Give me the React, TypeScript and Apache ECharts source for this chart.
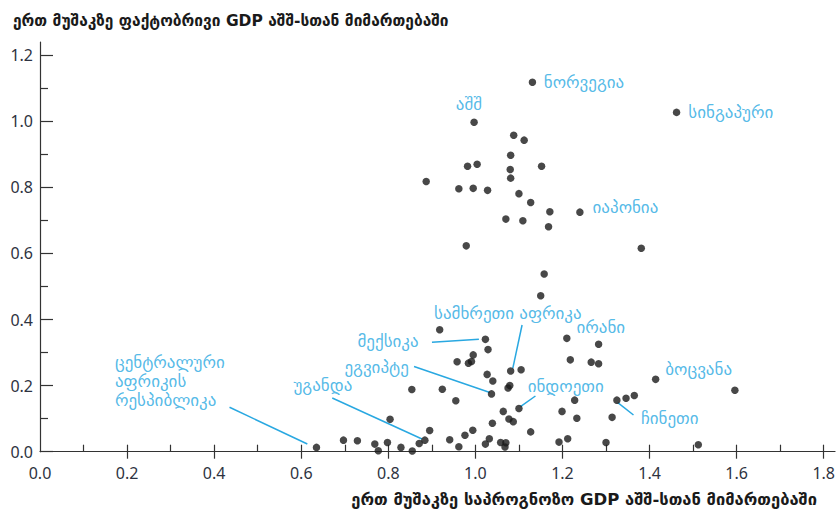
import React, { useEffect, useRef } from "react";
import * as echarts from "echarts";

// Tick values
const yMajorTicks = [0, 0.2, 0.4, 0.6, 0.8, 1.0, 1.2];
const yMinorTicks = [0.1, 0.3, 0.5, 0.7, 0.9, 1.1];
const xLabelTicks = [0, 0.2, 0.4, 0.6, 0.8, 1.0, 1.2, 1.4, 1.6, 1.8];
const xMajorTicks = [0.2, 0.4, 0.6, 0.8, 1.0, 1.2, 1.4, 1.6, 1.8];
const xAllTicks = [0.1, 0.2, 0.3, 0.4, 0.5, 0.6, 0.7, 0.8, 0.9, 1.0, 1.1, 1.2, 1.3, 1.4, 1.5, 1.6, 1.7, 1.8];

// Countries: [predicted GDP per worker rel. to US, actual GDP per worker rel. to US]
const points: [number, number][] = [
  [1.131, 1.118], [1.462, 1.027], [0.997, 0.997], [1.088, 0.958], [1.112, 0.943],
  [1.081, 0.897], [0.982, 0.864], [1.004, 0.870], [1.080, 0.854], [1.152, 0.864],
  [1.081, 0.828], [0.887, 0.818], [0.962, 0.796], [0.995, 0.797], [1.028, 0.791],
  [1.100, 0.781], [1.127, 0.754], [1.171, 0.726], [1.240, 0.725], [1.070, 0.704],
  [1.109, 0.699], [1.168, 0.681], [0.979, 0.623], [1.381, 0.616], [1.158, 0.538],
  [1.150, 0.472],
  [0.918, 0.369], [1.023, 0.340], [1.029, 0.309], [0.995, 0.293], [0.958, 0.272],
  [0.984, 0.268], [0.991, 0.273], [1.210, 0.343], [1.283, 0.325], [1.218, 0.278],
  [1.266, 0.271], [1.283, 0.266], [1.081, 0.244], [1.105, 0.248], [1.027, 0.234],
  [1.040, 0.214], [1.075, 0.193], [1.079, 0.200], [1.037, 0.175], [0.924, 0.189],
  [0.854, 0.188], [0.955, 0.154], [1.064, 0.122], [1.100, 0.131], [1.039, 0.086],
  [1.077, 0.099], [1.087, 0.091], [1.127, 0.060], [0.994, 0.065], [0.976, 0.050],
  [0.962, 0.015], [0.941, 0.036], [0.895, 0.064], [0.884, 0.035], [0.871, 0.025],
  [1.032, 0.039], [1.023, 0.023], [1.058, 0.028], [1.070, 0.027], [1.068, 0.014],
  [1.192, 0.029], [1.212, 0.039], [1.199, 0.122], [1.228, 0.156], [1.233, 0.101],
  [1.300, 0.028], [1.314, 0.104], [1.325, 0.156], [1.346, 0.162], [1.365, 0.170],
  [1.414, 0.219], [1.596, 0.186], [1.512, 0.021], [0.635, 0.013], [0.697, 0.035],
  [0.729, 0.033], [0.769, 0.023], [0.777, 0.003], [0.798, 0.028], [0.829, 0.013],
  [0.855, 0.002], [0.804, 0.098],
];

// Country annotations
const labelTexts = [
  "ნორვეგია", "სინგაპური", "აშშ", "იაპონია", "სამხრეთი აფრიკა", "მექსიკა",
  "ირანი", "ეგვიპტე", "ინდოეთი", "ბოცვანა", "უგანდა", "ჩინეთი",
  "ცენტრალური\nაფრიკის\nრესპიბლიკა",
];
const labelAnchors: [number, number][] = [
  [1.157, 1.119], [1.489, 1.028], [0.955, 1.052], [1.269, 0.741], [0.905, 0.420],
  [0.729, 0.335], [1.232, 0.378], [0.699, 0.256], [1.120, 0.198], [1.436, 0.250],
  [0.582, 0.202], [1.380, 0.101], [0.172, 0.214],
];
const leaderLines: [number, number][][] = [
  [[0.4353, 0.1344], [0.6140, 0.0233]],
  [[0.6712, 0.1625], [0.8774, 0.0384]],
  [[0.8591, 0.2577], [1.0332, 0.1792]],
  [[0.9003, 0.3311], [1.0080, 0.3402]],
  [[1.1072, 0.3835], [1.0859, 0.2524]],
  [[1.1379, 0.1686], [1.1035, 0.1362]],
  [[1.3271, 0.1483], [1.3631, 0.1111]],
];

const yTitle = "ერთ მუშაკზე ფაქტობრივი GDP აშშ-სთან მიმართებაში";
const xTitle = "ერთ მუშაკზე საპროგნოზო GDP აშშ-სთან მიმართებაში";

const BLUE = "#29a8e1";
const AXIS = "#333333";
const TICK_LABEL = "#2e3341";

export default function App() {
  const ref = useRef<HTMLDivElement>(null);
  useEffect(() => {
    document.body.style.margin = "0";
    if (!ref.current) return;
    const chart = echarts.init(ref.current, undefined, { renderer: "svg" });
    const axisLine = { show: true, lineStyle: { color: AXIS, width: 1.2 } };
    const tickLabel = {
      color: TICK_LABEL,
      fontSize: 16,
      fontFamily: "Noto Sans",
      formatter: (v: number) => v.toFixed(1),
    };
    const X_MAX = 1.826;
    const Y_MAX = 1.24;
    chart.setOption({
      animation: false,
      backgroundColor: "#ffffff",
      title: [
        {
          text: yTitle,
          left: 8,
          top: 8,
          textStyle: { fontFamily: "DejaVu Sans", fontWeight: "bold", fontSize: 15.5, color: "#1a1a1a" },
        },
        {
          text: xTitle,
          right: 16,
          top: 486,
          textStyle: { fontFamily: "DejaVu Sans", fontWeight: "bold", fontSize: 16.5, color: "#1a1a1a" },
        },
      ],
      grid: { left: 40, right: 1, top: 42, bottom: 66.3, containLabel: false },
      xAxis: [
        {
          type: "value", min: 0, max: X_MAX, position: "bottom",
          axisLine,
          axisTick: { show: true, inside: false, length: 7, customValues: xMajorTicks, lineStyle: { color: AXIS, width: 1.2 } },
          axisLabel: { ...tickLabel, margin: 13, customValues: xLabelTicks },
          splitLine: { show: false },
        },
        {
          type: "value", min: 0, max: X_MAX, position: "bottom",
          axisLine: { show: false },
          axisTick: { show: true, inside: true, length: 7, customValues: xAllTicks, lineStyle: { color: AXIS, width: 1.2 } },
          axisLabel: { show: false },
          splitLine: { show: false },
        },
      ],
      yAxis: [
        {
          type: "value", min: 0, max: Y_MAX, position: "left",
          axisLine,
          axisTick: { show: true, inside: true, length: 13, customValues: yMajorTicks, lineStyle: { color: AXIS, width: 1.2 } },
          axisLabel: { ...tickLabel, margin: 7, customValues: yMajorTicks },
          splitLine: { show: false },
        },
        {
          type: "value", min: 0, max: Y_MAX, position: "left",
          axisLine: { show: false },
          axisTick: { show: true, inside: true, length: 8, customValues: yMinorTicks, lineStyle: { color: AXIS, width: 1.2 } },
          axisLabel: { show: false },
          splitLine: { show: false },
        },
      ],
      series: [
        {
          type: "lines",
          coordinateSystem: "cartesian2d",
          xAxisIndex: 0,
          yAxisIndex: 0,
          silent: true,
          polyline: false,
          symbol: "none",
          lineStyle: { color: BLUE, width: 1.5, opacity: 1 },
          data: leaderLines.map((c) => ({ coords: c })),
        },
        {
          type: "scatter",
          xAxisIndex: 0,
          yAxisIndex: 0,
          silent: true,
          symbolSize: 7.5,
          itemStyle: { color: "#1a1a1a" },
          data: points,
        },
        {
          type: "scatter",
          xAxisIndex: 0,
          yAxisIndex: 0,
          silent: true,
          symbolSize: 0.1,
          itemStyle: { color: "rgba(0,0,0,0)" },
          label: {
            show: true,
            position: "right",
            distance: 0,
            color: BLUE,
            fontSize: 17,
            lineHeight: 19,
            fontFamily: "DejaVu Sans",
            formatter: (p: any) => p.name,
          },
          data: labelAnchors.map((a, i) => ({ name: labelTexts[i], value: a })),
        },
      ],
    });
    return () => chart.dispose();
  }, []);
  return <div ref={ref} style={{ width: 838, height: 518 }} />;
}
